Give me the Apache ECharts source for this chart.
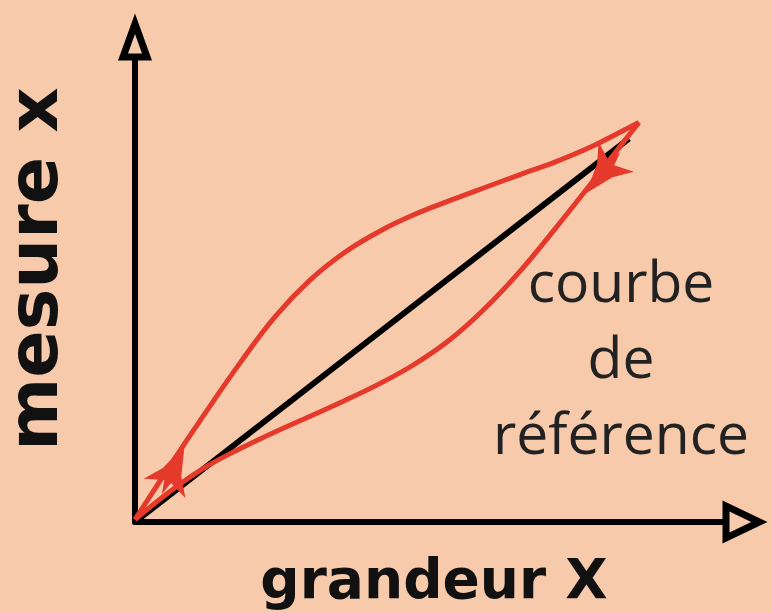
<!DOCTYPE html>
<html>
<head>
<meta charset="utf-8">
<script src="https://cdn.jsdelivr.net/npm/echarts@6.0.0/dist/echarts.min.js"></script>
<style>
	html, body { margin: 0; padding: 0; background: #f6caab; }
	#chart { width: 772px; height: 613px; }
</style>
</head>
<body>
<div id="chart"></div>
<script>
// hysteresis loop, values (0..100 on both axes)
let courbeMontee = [
	[0, 0.5], [5.95, 12.2], [11.9, 23.5], [17.9, 34.5], [23.8, 44.4],
	[29.8, 52.4], [35.7, 58.4], [41.7, 63.0], [47.6, 66.6], [53.6, 69.6],
	[59.5, 72.4], [65.5, 75.2], [71.4, 77.9], [77.4, 81.1], [83.3, 84.9],
	[85.7, 86.5],
];
let courbeDescente = [
	[85.7, 86.5], [83.3, 82.6], [77.4, 73.0], [71.4, 63.4], [65.5, 54.3],
	[59.5, 46.2], [53.6, 39.5], [47.6, 34.2], [41.7, 30.0], [35.7, 26.3],
	[29.8, 22.9], [23.8, 19.5], [17.9, 15.9], [11.9, 11.8], [5.95, 6.6],
	[0, 0.5],
];
let droiteReference = [[0, 0], [84, 83]];
let fleches = [[6.5, 11.3], [79.6, 75.6]];

let axisNames = ['grandeur X', 'mesure x'];
let legende = ['courbe', 'de', 'référence'];

let rouge = '#e5392c';
let flecheRotations = [-25, 140];
let flecheForme = 'path://M50 0L72 55L100 88L58 74L50 100L42 74L0 88L28 55Z';

// hollow triangles for the axis ends (outer shape + reversed inner one)
let triangleY = 'path://M17 0L34 47L0 47ZM17 20.6L10 40L24 40Z';
let triangleX = 'path://M21.5 0L43 45L0 45ZM21.5 16.3L11.1 38L31.9 38Z';

let chart = echarts.init(document.getElementById('chart'));

let options = {
	backgroundColor: '#f6caab',
	animation: false,
	grid: {left: 135, right: 49, top: 60, bottom: 91, outerBoundsMode: 'none'},
	xAxis: {
		type: 'value',
		min: 0,
		max: 100,
		name: axisNames[0],
		nameLocation: 'middle',
		nameGap: 34,
		nameTextStyle: {
			fontFamily: 'DejaVu Sans',
			fontWeight: 'bold',
			fontSize: 55,
			color: '#111',
			padding: [0, 0, 0, 10],
		},
		axisLine: {
			onZero: false,
			symbol: ['none', triangleX],
			symbolSize: [43, 45],
			symbolOffset: [0, 22],
			lineStyle: {color: '#000', width: 6},
		},
		axisTick: {show: false},
		axisLabel: {show: false},
		splitLine: {show: false},
	},
	yAxis: {
		type: 'value',
		min: 0,
		max: 100,
		name: axisNames[1],
		nameLocation: 'middle',
		nameGap: 61,
		nameTextStyle: {
			fontFamily: 'DejaVu Sans',
			fontWeight: 'bold',
			fontSize: 70,
			color: '#111',
			padding: [0, 0, 0, 44],
		},
		axisLine: {
			onZero: false,
			symbol: ['none', triangleY],
			symbolSize: [34, 47],
			symbolOffset: [0, 23],
			lineStyle: {color: '#000', width: 6},
		},
		axisTick: {show: false},
		axisLabel: {show: false},
		splitLine: {show: false},
	},
	graphic: [{
		type: 'text',
		x: 621,
		y: 362,
		style: {
			text: legende.join('\n'),
			fontFamily: 'Open Sans',
			fontWeight: 'normal',
			fontSize: 57,
			lineHeight: 76,
			fill: '#222',
			align: 'center',
			verticalAlign: 'middle',
		},
	}],
	series: [
		{
			name: 'référence',
			type: 'line',
			data: droiteReference,
			showSymbol: false,
			z: 2,
			lineStyle: {color: '#000', width: 6},
		},
		{
			name: 'montée',
			type: 'line',
			data: courbeMontee,
			smooth: 0.4,
			showSymbol: false,
			z: 3,
			lineStyle: {color: rouge, width: 5},
		},
		{
			name: 'descente',
			type: 'line',
			data: courbeDescente,
			smooth: 0.4,
			showSymbol: false,
			z: 3,
			lineStyle: {color: rouge, width: 5},
		},
		{
			name: 'sens',
			type: 'scatter',
			symbol: flecheForme,
			symbolSize: [46, 54],
			z: 4,
			itemStyle: {color: rouge, opacity: 1},
			data: fleches.map((p, i) => ({value: p, symbolRotate: flecheRotations[i]})),
		},
	],
};

chart.setOption(options);
</script>
</body>
</html>
